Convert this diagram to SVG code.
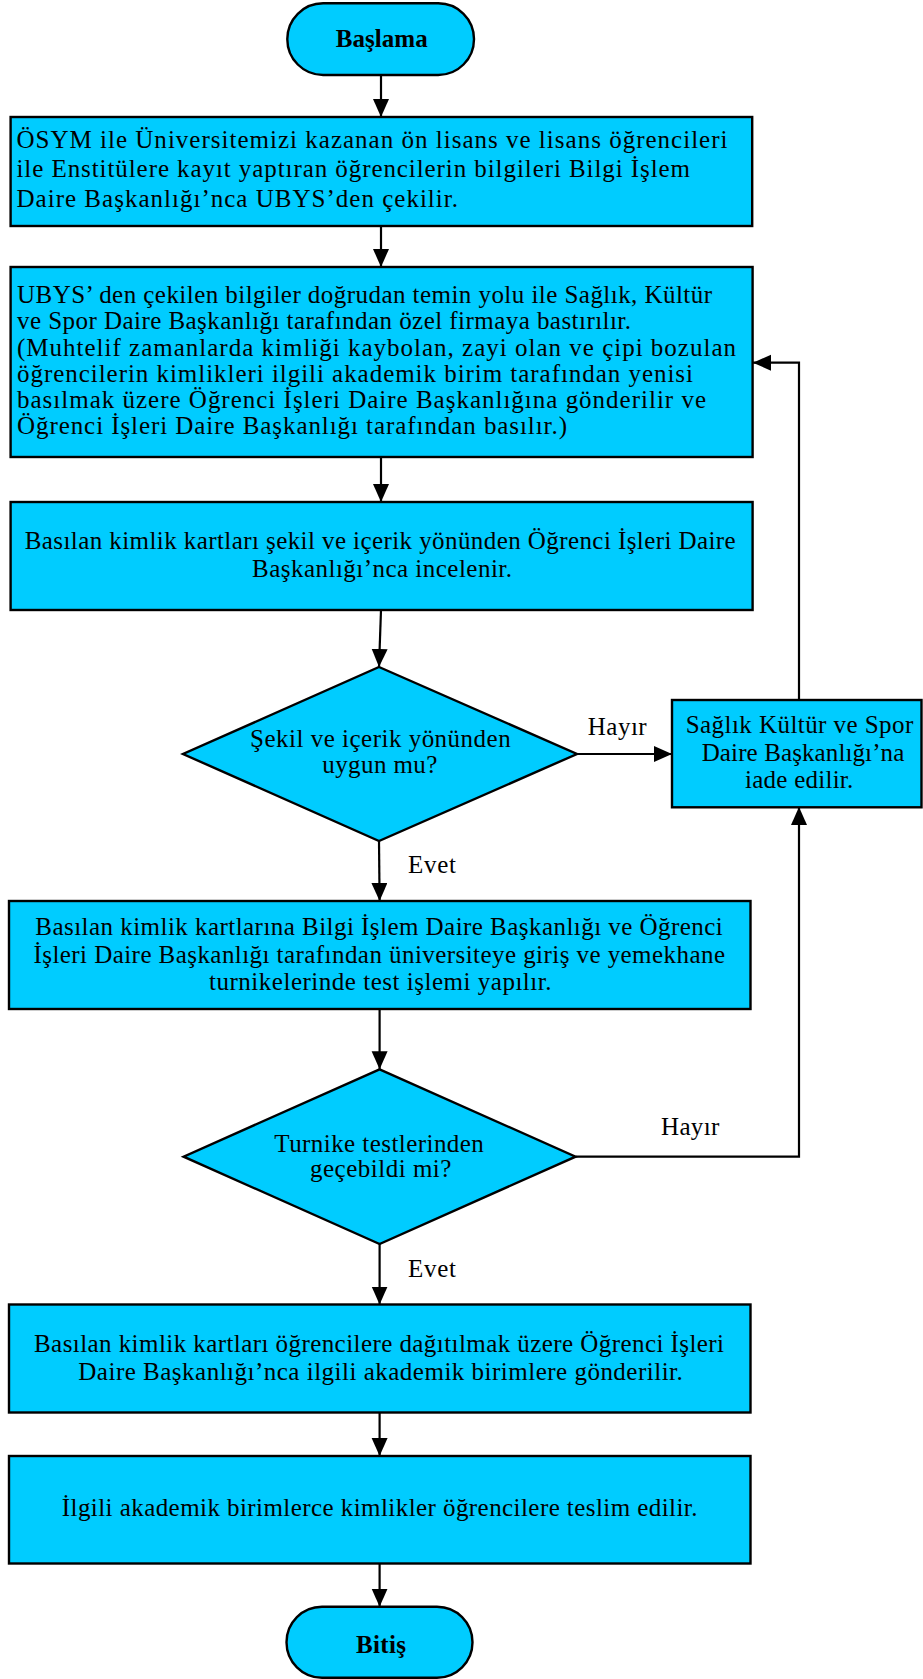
<svg xmlns="http://www.w3.org/2000/svg" width="923" height="1679" viewBox="0 0 923 1679">
<style>
.shape{fill:#00CCFF;stroke:#000;stroke-width:2.4}
.t{font-family:"Liberation Serif","Times New Roman",serif;font-size:25px;fill:#000}
.b{font-weight:bold}
.c{fill:none;stroke:#000;stroke-width:2.2}
</style>
<defs>
<marker id="ah" markerUnits="userSpaceOnUse" markerWidth="19" markerHeight="17" refX="18" refY="8" orient="auto">
<path d="M0,0 L18,8 L0,16 Z" fill="#000"/>
</marker>
</defs>
<rect width="923" height="1679" fill="#fff"/>

<g id="connectors">
<path class="c" d="M381,75 V117" marker-end="url(#ah)"/>
<path class="c" d="M381,226 V267" marker-end="url(#ah)"/>
<path class="c" d="M381,457 V502" marker-end="url(#ah)"/>
<path class="c" d="M381,610 L379,667" marker-end="url(#ah)"/>
<path class="c" d="M379,841 L379.6,901" marker-end="url(#ah)"/>
<path class="c" d="M577,754 H672" marker-end="url(#ah)"/>
<path class="c" d="M799,700 V362.7 H753" marker-end="url(#ah)"/>
<path class="c" d="M379.6,1009 V1069.3" marker-end="url(#ah)"/>
<path class="c" d="M575.6,1156.7 H799 V807" marker-end="url(#ah)"/>
<path class="c" d="M379.6,1244 V1304.5" marker-end="url(#ah)"/>
<path class="c" d="M379.6,1412.5 V1456" marker-end="url(#ah)"/>
<path class="c" d="M379.6,1563.5 V1606.7" marker-end="url(#ah)"/>
<text class="t" x="587.7" y="735" textLength="59" lengthAdjust="spacing">Hayır</text>
<text class="t" x="408" y="873.3" textLength="48" lengthAdjust="spacing">Evet</text>
<text class="t" x="661" y="1135" textLength="58.3" lengthAdjust="spacing">Hayır</text>
<text class="t" x="408" y="1277.3" textLength="48" lengthAdjust="spacing">Evet</text>
</g>

<g id="start">
<rect class="shape" x="287.3" y="3.3" width="186.7" height="71.7" rx="35.8"/>
<text class="t b" x="335.7" y="46.7" textLength="92" lengthAdjust="spacing">Başlama</text>
</g>

<g id="box1">
<rect class="shape" x="10.6" y="117" width="741.6" height="109"/>
<text class="t" x="16.5" y="148" textLength="711" lengthAdjust="spacing">ÖSYM ile Üniversitemizi kazanan ön lisans ve lisans öğrencileri</text>
<text class="t" x="16.5" y="177.3" textLength="673.5" lengthAdjust="spacing">ile Enstitülere kayıt yaptıran öğrencilerin bilgileri Bilgi İşlem</text>
<text class="t" x="16.5" y="206.8" textLength="441.5" lengthAdjust="spacing">Daire Başkanlığı’nca UBYS’den çekilir.</text>
</g>

<g id="box2">
<rect class="shape" x="10.6" y="267" width="742" height="190"/>
<text class="t" x="17" y="303.3" textLength="695" lengthAdjust="spacing">UBYS’ den çekilen bilgiler doğrudan temin yolu ile Sağlık, Kültür</text>
<text class="t" x="17" y="329.3" textLength="614" lengthAdjust="spacing">ve Spor Daire Başkanlığı tarafından özel firmaya bastırılır.</text>
<text class="t" x="17" y="355.7" textLength="719" lengthAdjust="spacing">(Muhtelif zamanlarda kimliği kaybolan, zayi olan ve çipi bozulan</text>
<text class="t" x="17" y="381.7" textLength="676" lengthAdjust="spacing">öğrencilerin kimlikleri ilgili akademik birim tarafından yenisi</text>
<text class="t" x="17" y="407.7" textLength="689" lengthAdjust="spacing">basılmak üzere Öğrenci İşleri Daire Başkanlığına gönderilir ve</text>
<text class="t" x="17" y="434" textLength="550" lengthAdjust="spacing">Öğrenci İşleri Daire Başkanlığı tarafından basılır.)</text>
</g>

<g id="box3">
<rect class="shape" x="10.6" y="502" width="742" height="108"/>
<text class="t" x="24.7" y="549.3" textLength="711" lengthAdjust="spacing">Basılan kimlik kartları şekil ve içerik yönünden Öğrenci İşleri Daire</text>
<text class="t" x="252" y="576.7" textLength="260" lengthAdjust="spacing">Başkanlığı’nca incelenir.</text>
</g>

<g id="decision1">
<polygon class="shape" points="379,667 577,754 379,841 183,754"/>
<text class="t" x="250" y="747.3" textLength="260.7" lengthAdjust="spacing">Şekil ve içerik yönünden</text>
<text class="t" x="322.3" y="773.3" textLength="115" lengthAdjust="spacing">uygun mu?</text>
</g>

<g id="return">
<rect class="shape" x="672" y="700" width="249.5" height="107.3"/>
<text class="t" x="685.7" y="733.3" textLength="227.6" lengthAdjust="spacing">Sağlık Kültür ve Spor</text>
<text class="t" x="701.7" y="761" textLength="202.6" lengthAdjust="spacing">Daire Başkanlığı’na</text>
<text class="t" x="745" y="788.3" textLength="108.3" lengthAdjust="spacing">iade edilir.</text>
</g>

<g id="box4">
<rect class="shape" x="9" y="901" width="741.5" height="108"/>
<text class="t" x="35.3" y="935" textLength="687.5" lengthAdjust="spacing">Basılan kimlik kartlarına Bilgi İşlem Daire Başkanlığı ve Öğrenci</text>
<text class="t" x="33.5" y="962.7" textLength="691.5" lengthAdjust="spacing">İşleri Daire Başkanlığı tarafından üniversiteye giriş ve yemekhane</text>
<text class="t" x="209" y="990" textLength="342.5" lengthAdjust="spacing">turnikelerinde test işlemi yapılır.</text>
</g>

<g id="decision2">
<polygon class="shape" points="379.6,1069.3 575.6,1156.7 379.6,1244 183.6,1156.7"/>
<text class="t" x="274.3" y="1151.7" textLength="209.5" lengthAdjust="spacing">Turnike testlerinden</text>
<text class="t" x="310" y="1177.3" textLength="141.4" lengthAdjust="spacing">geçebildi mi?</text>
</g>

<g id="box5">
<rect class="shape" x="9" y="1304.5" width="741.5" height="108"/>
<text class="t" x="34" y="1351.7" textLength="690" lengthAdjust="spacing">Basılan kimlik kartları öğrencilere dağıtılmak üzere Öğrenci İşleri</text>
<text class="t" x="78.3" y="1380" textLength="604.5" lengthAdjust="spacing">Daire Başkanlığı’nca ilgili akademik birimlere gönderilir.</text>
</g>

<g id="box6">
<rect class="shape" x="9" y="1456" width="741.5" height="107.5"/>
<text class="t" x="61.8" y="1516" textLength="635.7" lengthAdjust="spacing">İlgili akademik birimlerce kimlikler öğrencilere teslim edilir.</text>
</g>

<g id="end">
<rect class="shape" x="286.5" y="1606.7" width="186" height="71" rx="35.5"/>
<text class="t b" x="356" y="1652.7" textLength="50" lengthAdjust="spacing">Bitiş</text>
</g>
</svg>
